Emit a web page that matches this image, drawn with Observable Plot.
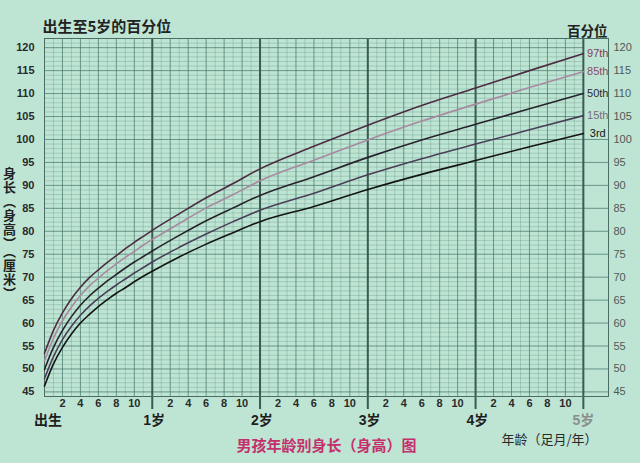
<!DOCTYPE html>
<html>
<head>
<meta charset="utf-8">
<script src="https://cdn.jsdelivr.net/npm/d3@7"></script>
<script src="https://cdn.jsdelivr.net/npm/@observablehq/plot@0.6"></script>
<style>
  html, body { margin: 0; padding: 0; background: #bee5d4; }
  #chart svg { display: block; }
</style>
</head>
<body>
<div id="chart"></div>
<script>
// ---- data (WHO boys length/height-for-age) ----
const months = [0,1,2,3,4,5,6,7,8,9,10,11,12,15,18,21,24,30,36,42,48,54,60];
const p3  = [46.3,51.1,54.7,57.6,60.0,61.9,63.6,65.1,66.5,67.7,69.0,70.2,71.3,74.4,77.2,79.7,82.1,85.4,89.1,92.4,95.4,98.4,101.3];
const p15 = [47.9,52.7,56.4,59.3,61.7,63.7,65.4,66.9,68.3,69.6,70.9,72.1,73.3,76.5,79.4,82.1,84.6,88.3,92.3,95.8,99.0,102.1,105.2];
const p50 = [49.9,54.7,58.4,61.4,63.9,65.9,67.6,69.2,70.6,72.0,73.3,74.5,75.7,79.1,82.3,85.1,87.8,91.9,96.1,99.9,103.3,106.7,110.0];
const p85 = [51.8,56.7,60.5,63.5,66.0,68.1,69.8,71.4,72.9,74.3,75.6,77.0,78.2,81.7,85.1,88.0,91.0,95.5,99.9,104.0,107.7,111.3,114.8];
const p97 = [53.4,58.4,62.2,65.3,67.8,69.9,71.6,73.2,74.7,76.2,77.6,78.9,80.2,83.8,87.3,90.4,93.6,98.5,103.1,107.4,111.2,115.0,118.7];
const seriesNames = ["3rd","15th","50th","85th","97th"];
const seriesValues = [p3, p15, p50, p85, p97];

const yearTicks = [0,1,2,3,4,5];
const yearLabels = ["出生","1岁","2岁","3岁","4岁","5岁"];
const monthTickLabels = [2,4,6,8,10];
const heightTicks = d3.range(45, 121, 5);

const title = "出生至5岁的百分位";
const percentileHeader = "百分位";
const yTitle = "身长（身高）（厘米）";
const caption = "男孩年龄别身长（身高）图";
const xTitle = "年龄（足月/年）";

// ---- styles ----
const lineColors = ["#141414", "#4a3f58", "#27232c", "#a88aa0", "#4d2c42"];
const labelColors = ["#151515", "#786c80", "#2e2a30", "#8a4a68", "#853a5c"];
const fontLatin = "'Liberation Sans', Arial, 'Noto Sans CJK SC', sans-serif";
const fontCJK = "'Noto Sans CJK SC', 'Liberation Sans', sans-serif";
const yLo = 44, yHi = 122, xEnd = 60, xStrip = 62.8;

// ---- build tidy rows ----
const rows = seriesNames.flatMap((s, j) => months.map((m, i) => ({series: s, month: m, h: seriesValues[j][i]})));
const ends = seriesNames.map((s, j) => ({series: s, month: xEnd, h: seriesValues[j][months.length - 1], color: labelColors[j]}));

const allMonths = d3.range(0, xEnd + 1);
const minorMonths = allMonths.filter(m => m % 2 === 1);
const evenMonths = allMonths.filter(m => m % 2 === 0 && m % 12 !== 0);
const yearMonths = yearTicks.map(y => y * 12);
const cms = d3.range(yLo, yHi + 1);
const minorCm = cms.filter(c => c % 5 !== 0);
const majorCm = cms.filter(c => c % 5 === 0);
const stripCm = majorCm.filter(c => c <= 100);
const monthLabelRows = yearTicks.slice(0, 5).flatMap(y => monthTickLabels.map(m => ({month: y * 12 + m, label: String(m)})));

const plot = Plot.plot({
  width: 640,
  height: 463,
  marginLeft: 44,
  marginRight: 32,
  marginTop: 38,
  marginBottom: 67,
  style: {background: "#bee5d4", fontFamily: fontLatin},
  x: {domain: [0, xStrip], axis: null},
  y: {domain: [yLo, yHi], axis: null},
  color: {domain: seriesNames, range: lineColors},
  marks: [
    // grid
    Plot.ruleX(minorMonths, {x: d => d, stroke: "#5f8f82", strokeOpacity: 0.42, strokeWidth: 0.8}),
    Plot.ruleY(minorCm, {y: d => d, x1: 0, x2: xEnd, stroke: "#5f8f82", strokeOpacity: 0.42, strokeWidth: 0.8}),
    Plot.ruleX(evenMonths, {x: d => d, stroke: "#45766a", strokeOpacity: 0.72, strokeWidth: 1}),
    Plot.ruleY(majorCm, {y: d => d, x1: 0, x2: xEnd, stroke: "#45766a", strokeOpacity: 0.72, strokeWidth: 1}),
    Plot.ruleY(stripCm, {y: d => d, x1: xEnd, x2: xStrip, stroke: "#45766a", strokeOpacity: 0.72, strokeWidth: 1}),
    Plot.ruleX(yearMonths.slice(1), {x: d => d, stroke: "#3a5a52", strokeWidth: 2, insetBottom: -13}),
    Plot.frame({stroke: "#4a6e64", strokeWidth: 1}),
    // curves
    Plot.line(rows, {x: "month", y: "h", z: "series", stroke: "series", strokeWidth: 1.6, curve: "monotone-x"}),
    // percentile labels
    ...ends.map(e => Plot.text([e], {x: d => (xEnd + xStrip) / 2 + 0.2, y: "h", text: "series", fill: e.color, fontSize: 11, textAnchor: "middle"})),
    // axes
    Plot.axisY(heightTicks, {anchor: "left", tickSize: 0, tickPadding: 10, fontSize: 11, fontWeight: "bold", fill: "#2a2a2a", label: null}),
    Plot.axisY(heightTicks, {anchor: "right", tickSize: 0, tickPadding: 5, fontSize: 11, fill: "#505858", label: null}),
    Plot.text(monthLabelRows, {x: "month", text: "label", frameAnchor: "bottom", dy: 10, fontSize: 11, fontWeight: "bold", fill: "#2a2a2a"}),
    Plot.text(yearTicks.slice(0, 5), {x: d => d * 12 + (d === 0 ? 0.4 : 0.2), text: d => yearLabels[d], frameAnchor: "bottom", dy: 28, fontSize: 14, fontWeight: "bold", fill: "#1e1e1e", fontFamily: fontLatin}),
    Plot.text([5], {x: d => d * 12, text: d => yearLabels[d], frameAnchor: "bottom", dy: 28, fontSize: 14, fontWeight: "bold", fill: "#8a8f8c"}),
    // titles
    Plot.text([title], {frameAnchor: "top-left", textAnchor: "start", dx: -2, dy: -17, fontSize: 15, fontWeight: "bold", fill: "#222", fontFamily: fontCJK}),
    Plot.text([percentileHeader], {frameAnchor: "top-right", textAnchor: "end", dx: -1, dy: -12, fontSize: 13.5, fontWeight: "bold", fill: "#222", fontFamily: fontCJK}),
    Plot.text([yTitle], {frameAnchor: "left", textAnchor: "middle", dx: -35, dy: 12, fontSize: 13, fontWeight: "bold", fill: "#222", fontFamily: fontCJK}),
    Plot.text([caption], {frameAnchor: "bottom", dy: 54, fontSize: 15, fontWeight: "bold", fill: "#c4306c", fontFamily: fontCJK}),
    Plot.text([xTitle], {frameAnchor: "bottom-right", textAnchor: "end", dx: -11, dy: 47, fontSize: 13, fill: "#2a2a2a", fontFamily: fontCJK})
  ]
});
// set the y title in vertical writing mode
d3.select(plot).selectAll("text").filter(function() { return this.textContent === yTitle; })
  .style("writing-mode", "vertical-rl")
  .style("text-orientation", "upright")
  .attr("dy", null)
  .style("dominant-baseline", "central")
  .style("letter-spacing", "1px");
document.getElementById("chart").appendChild(plot);
</script>
</body>
</html>
